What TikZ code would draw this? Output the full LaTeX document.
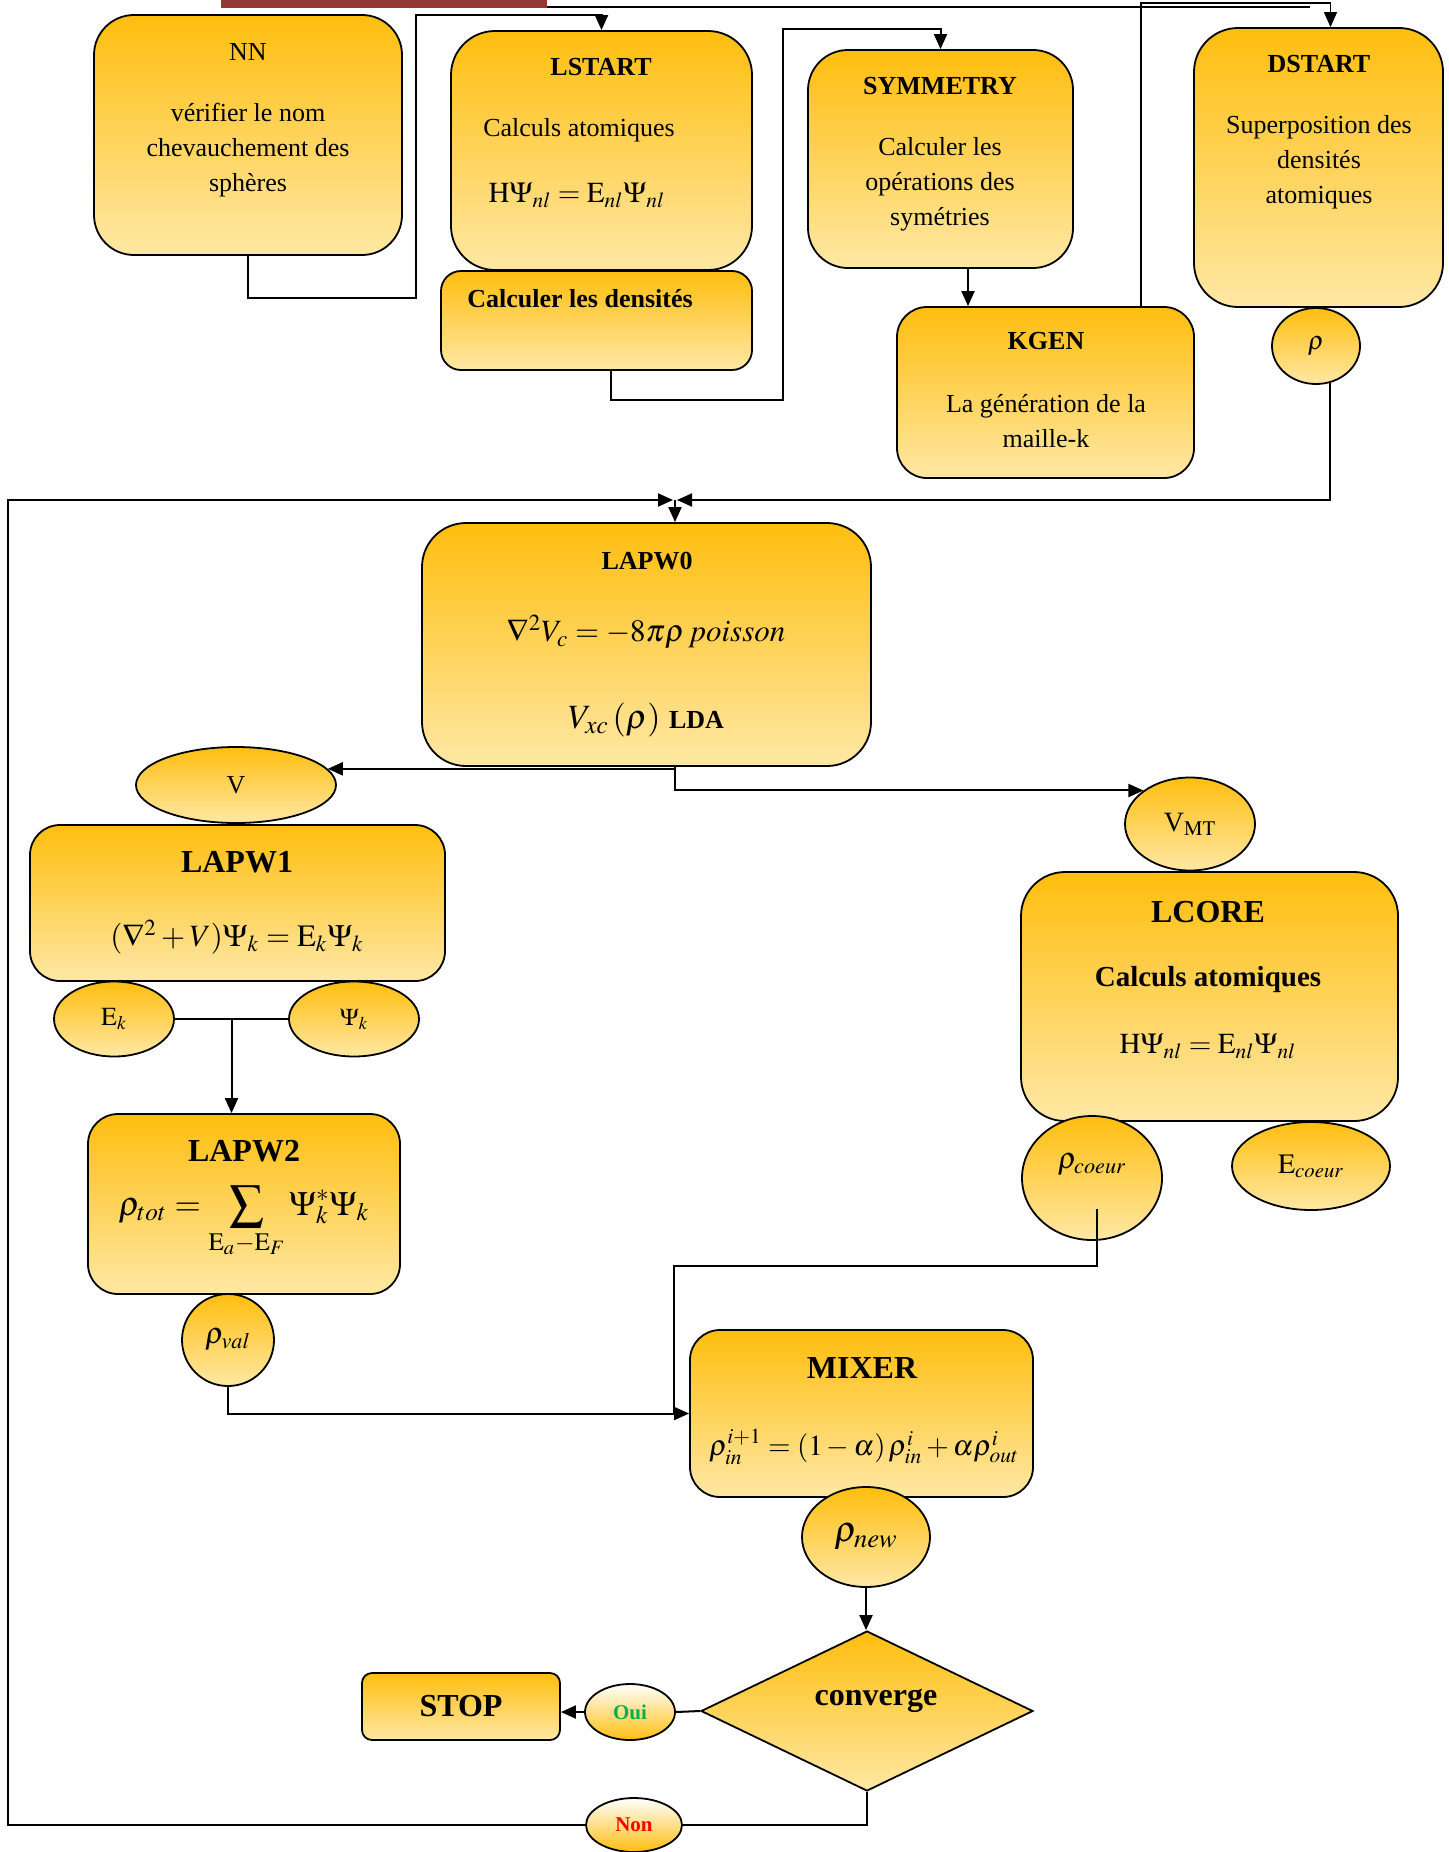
\documentclass[tikz,border=0pt]{standalone}
\usepackage{mathptmx}
\usepackage[no-math]{fontspec}
\setmainfont{Liberation Serif}
\usetikzlibrary{shapes.geometric,arrows.meta,calc}

\definecolor{topc}{RGB}{255,190,15}
\definecolor{botc}{RGB}{255,232,165}
\definecolor{barred}{RGB}{149,55,53}
\definecolor{ouig}{RGB}{0,176,80}

\begin{document}
\begin{tikzpicture}[x=0.5pt,y=-0.5pt,
  box/.style={draw=black,line width=0.9pt,top color=topc,bottom color=botc,inner sep=0pt},
  oval/.style={ellipse,draw=black,line width=0.9pt,top color=topc,bottom color=botc,inner sep=0pt},
  revoval/.style={ellipse,draw=black,line width=0.9pt,top color=white,bottom color=topc,inner sep=0pt},
  wire/.style={draw=black,line width=1pt},
  arr/.style={draw=black,line width=1pt,-{Triangle[length=7.5pt,width=6.5pt]}},
  txt/.style={inner sep=0pt,align=center,font=\fontsize{13}{17.5}\selectfont},
  ttl/.style={inner sep=0pt,align=center,font=\fontsize{13}{16}\selectfont\bfseries},
  bigttl/.style={inner sep=0pt,align=center,font=\fontsize{16}{19}\selectfont\bfseries},
]
\useasboundingbox (0,0) rectangle (1449,1852);

% header rule
\fill[barred] (221,0) rectangle (547,8);
\draw[wire] (547,7) -- (1310,7);

% ---- initialisation programs ----
\node[box,rounded corners=20pt,minimum width=154pt,minimum height=120pt] (NN) at (248,135) {};
\node[txt] (nnT) at (248,52) {NN};
\node[txt] (nnB) at (248,150) {vérifier le nom\\chevauchement des\\sphères};

\node[box,rounded corners=22pt,minimum width=150.5pt,minimum height=119.5pt] (LSTART) at (601.5,150.5) {};
\node[ttl] (lsT) at (601,67) {LSTART};
\node[txt] (lsA) at (579,130) {Calculs atomiques};
\node[txt,font=\fontsize{14.5}{17}\selectfont] (lsE) at (577,195) {$\mathrm{H}\Psi_{nl}=\mathrm{E}_{nl}\Psi_{nl}$};

\node[box,rounded corners=10pt,minimum width=155.5pt,minimum height=49.5pt] (DENS) at (596.5,320.5) {};
\node[ttl] (dnT) at (580,299) {Calculer les densités};

\node[box,rounded corners=20pt,minimum width=132.5pt,minimum height=109pt] (SYM) at (940.5,159) {};
\node[ttl] (syT) at (940,86) {SYMMETRY};
\node[txt] (syB) at (940,184) {Calculer les\\opérations des\\symétries};

\node[box,rounded corners=15pt,minimum width=148.5pt,minimum height=85.5pt] (KGEN) at (1045.5,392.5) {};
\node[ttl] (kgT) at (1046,341) {KGEN};
\node[txt] (kgB) at (1046,421) {La génération de la\\maille-k};

\node[box,rounded corners=22pt,minimum width=124.5pt,minimum height=139.5pt] (DSTART) at (1318.5,167.5) {};
\node[ttl] (dsT) at (1319,64) {DSTART};
\node[txt] (dsB) at (1319,162) {Superposition des\\densités\\atomiques};
\node[oval,minimum width=44pt,minimum height=38pt,font=\fontsize{13}{15}\selectfont] (rho) at (1316,346) {$\rho$};

% ---- SCF cycle ----
\node[box,rounded corners=22pt,minimum width=224.5pt,minimum height=121.5pt] (LAPW0) at (646.5,644.5) {};
\node[ttl] (l0T) at (647,561) {LAPW0};
\node[txt,font=\fontsize{15.5}{18}\selectfont] (l0E) at (646,632) {$\nabla^2 V_c=-8\pi\rho\, poisson$};
\node[txt,font=\fontsize{17}{20}\selectfont] (l0X) at (646,720) {$V_{xc}\left(\rho\right)$ {\fontsize{13}{16}\selectfont\bfseries LDA}};

\node[oval,minimum width=100pt,minimum height=38pt,font=\fontsize{13}{15}\selectfont] (V) at (236,785) {V};
\node[oval,minimum width=65pt,minimum height=46.5pt,font=\fontsize{14}{16}\selectfont] (VMT) at (1190,824) {V$_{\mathrm{MT}}$};

\node[box,rounded corners=15pt,minimum width=207.5pt,minimum height=78pt] (LAPW1) at (237.5,903) {};
\node[bigttl] (l1T) at (237,862) {LAPW1};
\node[txt,font=\fontsize{15.5}{18}\selectfont] (l1E) at (237,937) {$(\nabla^2+V)\Psi_k=\mathrm{E}_k\Psi_k$};

\node[oval,minimum width=60pt,minimum height=37.5pt,font=\fontsize{13}{15}\selectfont] (Ek) at (114,1019) {$\mathrm{E}_k$};
\node[oval,minimum width=65pt,minimum height=37.5pt,font=\fontsize{12}{14}\selectfont] (Psik) at (354,1019) {$\Psi_k$};

\node[box,rounded corners=15pt,minimum width=156pt,minimum height=90pt] (LAPW2) at (244,1204) {};
\node[bigttl] (l2T) at (244,1151) {LAPW2};
\node[txt,font=\fontsize{17}{20}\selectfont] (l2E) at (244,1222) {$\displaystyle\rho_{tot}=\sum_{\mathrm{E}_a-\mathrm{E}_F}\Psi_k^*\Psi_k$};

\node[oval,minimum width=46pt,minimum height=46pt,font=\fontsize{15}{17}\selectfont] (rhoval) at (228,1340) {$\rho_{val}$};

\node[box,rounded corners=22pt,minimum width=188.5pt,minimum height=124.5pt] (LCORE) at (1209.5,996.5) {};
\node[bigttl] (lcT) at (1208,912) {LCORE};
\node[txt,font=\fontsize{14.5}{17}\selectfont\bfseries] (lcA) at (1208,980) {Calculs atomiques};
\node[txt,font=\fontsize{14.5}{17}\selectfont] (lcE) at (1208,1046) {$\mathrm{H}\Psi_{nl}=\mathrm{E}_{nl}\Psi_{nl}$};

\node[oval,minimum width=70pt,minimum height=62pt] (rhocoeur) at (1092,1178) {};
\node[txt,font=\fontsize{15}{17}\selectfont] (rcT) at (1092,1165) {$\rho_{coeur}$};
\node[oval,minimum width=79pt,minimum height=44pt,font=\fontsize{14}{16}\selectfont] (Ecoeur) at (1311,1166) {$\mathrm{E}_{coeur}$};

\node[box,rounded corners=15pt,minimum width=171.5pt,minimum height=83.5pt] (MIXER) at (861.5,1413.5) {};
\node[bigttl] (mxT) at (862,1368) {MIXER};
\node[txt,font=\fontsize{14.5}{17}\selectfont] (mxE) at (864,1447) {$\rho_{in}^{i+1}=\left(1-\alpha\right)\rho_{in}^{i}+\alpha\rho_{out}^{i}$};

\node[oval,minimum width=64pt,minimum height=50pt,font=\fontsize{18}{20}\selectfont] (rhonew) at (866,1537) {$\rho_{new}$};

\node[diamond,aspect=2.075,draw=black,line width=0.9pt,top color=topc,bottom color=botc,inner sep=0pt,minimum width=166pt,minimum height=80pt] (conv) at (867,1711) {};
\node[bigttl] (cvT) at (876,1701) {converge};

\node[box,rounded corners=5pt,minimum width=99pt,minimum height=33.5pt,font=\fontsize{16}{19}\selectfont\bfseries] (STOP) at (461,1706.5) {STOP};
\node[revoval,minimum width=45pt,minimum height=28pt,font=\fontsize{10.5}{12}\selectfont\bfseries,text=ouig] (Oui) at (630,1712) {Oui};
\node[revoval,minimum width=48pt,minimum height=27pt,font=\fontsize{10.5}{12}\selectfont\bfseries,text=red] (Non) at (634,1825) {Non};

% ---- connectors ----
\coordinate (j) at (675,500);
\coordinate (sk) at (968,0);
\coordinate (kd) at (1141,0);

\draw[arr] (NN.south) |- (416,298) -- (416,15) -| (LSTART.north);
\draw[arr] ([xshift=7pt]DENS.south) |- (783,400) -- (783,29) -| (SYM.north);
\draw[arr] (SYM.south -| sk) -- (KGEN.north -| sk);
\draw[arr,line width=0.7pt] (KGEN.north -| kd) -- (1141,3) -| ([xshift=6pt]DSTART.north);

\draw[arr] (rho.290) |- ([xshift=1pt]j);
\draw[arr] (Non.west) -| (8,500) -- ([xshift=-1pt]j);
\draw[arr] (j) -- (LAPW0.north -| j);

\draw[arr] (LAPW0.south -| j) |- (V.10);
\draw[arr] (LAPW0.south -| j) |- (VMT.north west);

\draw[wire] (Ek.east) -- (Psik.west);
\coordinate (ep) at ($(Ek.east)!0.5!(Psik.west)$);
\draw[arr] (ep) -- (LAPW2.north -| ep);

\draw[arr] (rhoval.south) |- (MIXER.west);
\coordinate (rcin) at ($(rhocoeur.center)+(5,31)$);
\coordinate (mxin) at (674,1266);
\draw[line width=0.7pt] (rcin) |- (mxin) -- (mxin |- MIXER.west);

\draw[arr] (rhonew.south) -- (rhonew.south |- conv.north);
\draw[wire] (conv.west) -- (Oui.east);
\draw[arr] (Oui.west) -- (STOP.east |- Oui.west);
\draw[line width=0.8pt] (conv.south) |- (Non.east);
\end{tikzpicture}
\end{document}
